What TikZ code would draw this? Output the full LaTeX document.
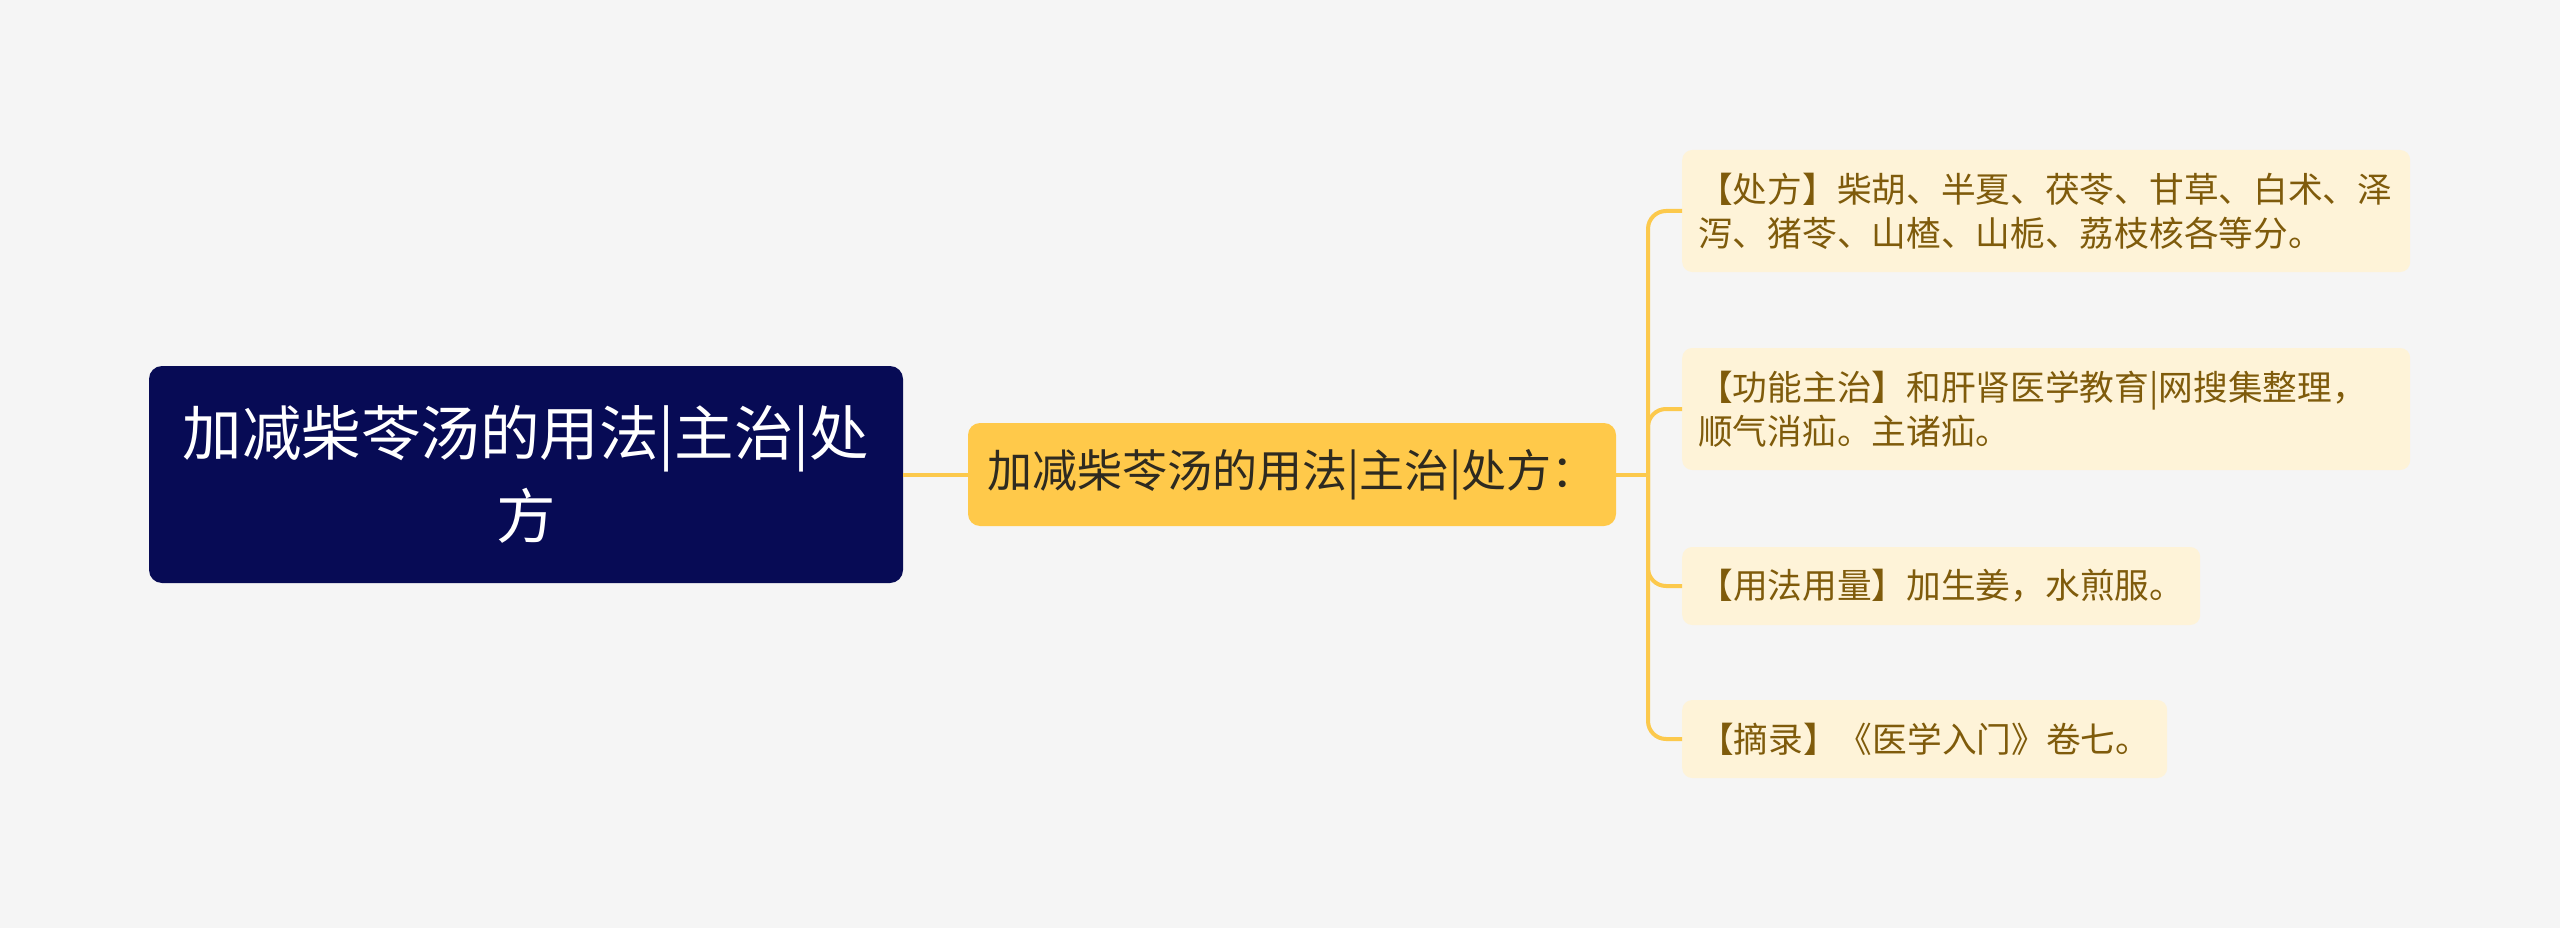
\documentclass[tikz,border=0pt]{standalone}
\usepackage{fontspec}
\setmainfont{Noto Sans CJK SC}
\definecolor{bg}{HTML}{F5F5F5}
\definecolor{rootfill}{HTML}{070B55}
\definecolor{midfill}{HTML}{FFC94A}
\definecolor{linec}{HTML}{FCC94C}
\definecolor{leaffill}{HTML}{FEF3D8}
\definecolor{leaftext}{HTML}{7F5B0B}
\definecolor{midtext}{HTML}{2E2A20}
\tikzset{
  rootbox/.style={fill=rootfill, rounded corners=13pt, text=white, align=center,
    minimum width=754pt, minimum height=217pt, inner sep=0pt,
    font=\fontsize{59.5}{83}\selectfont},
  midbox/.style={fill=midfill, rounded corners=12pt, text=midtext, align=center,
    minimum width=648pt, minimum height=103pt, inner sep=0pt,
    font=\fontsize{45}{54}\selectfont},
  leafbox/.style={fill=leaffill, rounded corners=10pt, text=leaftext, align=left,
    anchor=west, inner xsep=16pt, inner ysep=0pt,
    font=\fontsize{34.7}{44}\selectfont},
  conn/.style={draw=linec, line width=4pt},
}
\begin{document}
\begin{tikzpicture}[x=1pt,y=-1pt]
\fill[bg] (0,0) rectangle (2560,928);
\useasboundingbox (0,0) rectangle (2560,928);

\node[rootbox] (root) at (526,474.5) {加减柴苓汤的用法|主治|处\\方};
\node[midbox] (mid) at (1292,474.5) {加减柴苓汤的用法|主治|处方：};

\node[leafbox, text width=696pt, minimum height=122pt] (l1) at (1682,211)
  {【处方】柴胡、半夏、茯苓、甘草、白术、泽\\泻、猪苓、山楂、山栀、荔枝核各等分。};
\node[leafbox, text width=696pt, minimum height=122pt] (l2) at (1682,409)
  {【功能主治】和肝肾医学教育|网搜集整理，\\顺气消疝。主诸疝。};
\node[leafbox, minimum width=518pt, minimum height=78pt] (l3) at (1682,586)
  {【用法用量】加生姜，水煎服。};
\node[leafbox, minimum width=485pt, minimum height=78pt] (l4) at (1682,739)
  {【摘录】《医学入门》卷七。};

\coordinate (jn) at (1648,474.5);
\draw[conn] (root.east) -- (mid.west);
\draw[conn] (mid.east) -- (jn);
\foreach \l in {l1,l2,l3,l4}
  \draw[conn, rounded corners=18pt] (jn) |- (\l.west);
\end{tikzpicture}
\end{document}
